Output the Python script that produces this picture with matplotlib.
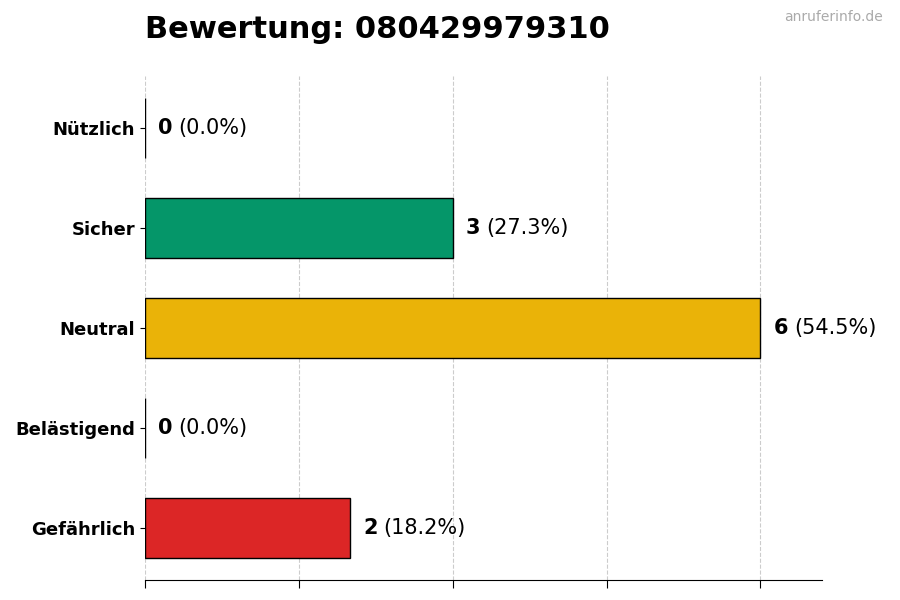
import matplotlib.pyplot as plt
from matplotlib.transforms import offset_copy

categories = ["Nützlich", "Sicher", "Neutral", "Belästigend", "Gefährlich"]
counts = [0, 3, 6, 0, 2]
colors = ["#6b7280", "#059669", "#EAB308", "#f97316", "#DC2626"]
total = sum(counts)

fig, ax = plt.subplots(figsize=(9, 6), dpi=100)
fig.subplots_adjust(left=145/900, right=822/900, top=1 - 76/600, bottom=20/600)

ypos = list(range(len(categories)))
ax.barh(ypos, counts, height=0.6, color=colors, edgecolor="black", linewidth=1, zorder=3)

ax.set_yticks(ypos)
ax.set_yticklabels(categories, fontsize=13, fontweight="bold")
ax.set_ylim(len(categories) - 0.48, -0.52)
ax.set_xlim(0, max(counts) * 1.1)
ax.set_xticks([0, 1.5, 3, 4.5, 6])
ax.set_xticklabels([])
ax.tick_params(axis="x", length=6)
ax.grid(axis="x", linestyle="--", color="#cccccc", linewidth=0.8, zorder=0)

for s in ["top", "right", "left"]:
    ax.spines[s].set_visible(False)

# value labels: bold count + normal percentage
fig.canvas.draw()
renderer = fig.canvas.get_renderer()
for y, c in zip(ypos, counts):
    pct = c / total * 100
    t = ax.text(c, y, str(c), fontsize=15, fontweight="bold", va="center", ha="left",
                transform=offset_copy(ax.transData, fig=fig, x=13, y=0, units="dots"))
    w = t.get_window_extent(renderer).width
    ax.text(c, y, f"({pct:.1f}%)", fontsize=15, va="center", ha="left",
            transform=offset_copy(ax.transData, fig=fig, x=13 + w + 6, y=0, units="dots"))

fig.text(145/900, 1 - 30/600, "Bewertung: 080429979310", fontsize=22, fontweight="bold",
         ha="left", va="center")
fig.text(883/900, 1 - 17/600, "anruferinfo.de", fontsize=10, color="#aaaaaa",
         ha="right", va="center")

fig.savefig("out.png", dpi=100)
